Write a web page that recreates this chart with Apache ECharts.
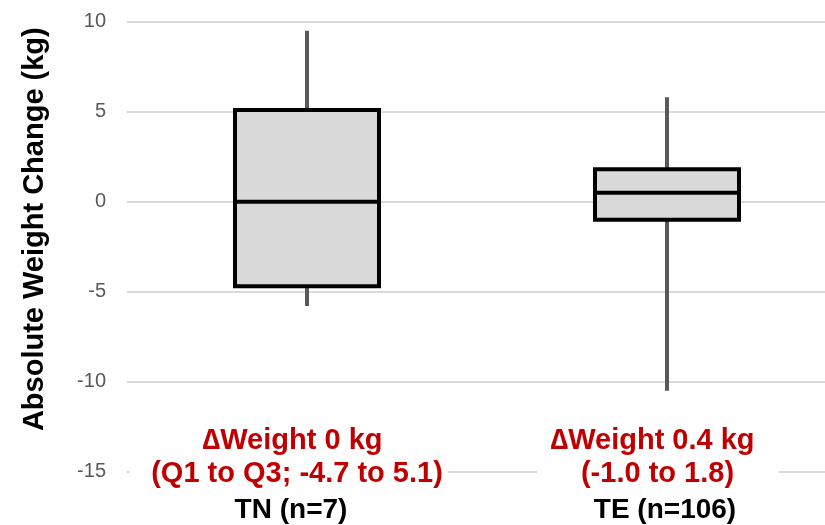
<!DOCTYPE html>
<html>
<head>
<meta charset="utf-8">
<script src="https://cdn.jsdelivr.net/npm/echarts@6/dist/echarts.min.js"></script>
<style>html,body{margin:0;padding:0;background:#fff}#c{width:825px;height:525px}</style>
</head>
<body>
<div id="c"></div>
<script>
const categories = ['TN (n=7)', 'TE (n=106)'];
const changeLabels = ['\u2206Weight 0 kg', '\u2206Weight 0.4 kg'];
const rangeLabels = ['(Q1 to Q3; -4.7 to 5.1)', '(-1.0 to 1.8)'];
const whiskerLow = [-5.8, -10.5];
const q1 = [-4.7, -1.0];
const median = [0, 0.5];
const q3 = [5.1, 1.8];
const whiskerHigh = [9.5, 5.8];
const yMin = -15, yMax = 10, yStep = 5;
const yTitle = 'Absolute Weight Change (kg)';

const boxData = categories.map((c, i) => [i, whiskerLow[i], q1[i], median[i], q3[i], whiskerHigh[i]]);
const labelFont = '"Liberation Sans", Arial, sans-serif';
const red = {fontFamily: labelFont, fontWeight: 'bold', fontSize: 29, color: '#c00000', lineHeight: 33};
const blk = {fontFamily: labelFont, fontWeight: 'bold', fontSize: 28, color: '#000', lineHeight: 41};

const chart = echarts.init(document.getElementById('c'), null, {renderer: 'canvas'});
chart.setOption({
  animation: false,
  backgroundColor: '#fff',
  grid: {left: 127, width: 720, top: 21.7, height: 450, containLabel: false, outerBoundsMode: 'none'},
  xAxis: {
    type: 'category',
    data: categories,
    z: 5,
    axisLine: {show: false},
    axisTick: {show: false},
    splitLine: {show: false},
    axisLabel: {
      interval: 0,
      margin: -47.5,
      formatter: (v, i) => `{a${i}|${changeLabels[i]}}\n{c${i}|${rangeLabels[i]}}{s${i}| }\n{b${i}|${v}}`,
      rich: {
        a0: Object.assign({}, red, {padding: [0, 29, 0, 0]}),
        c0: Object.assign({}, red, {backgroundColor: '#fff', padding: [0, 5, 0, 22]}),
        s0: Object.assign({}, red, {width: 37}),
        b0: Object.assign({}, blk, {padding: [0, 32, 0, 0]}),
        a1: Object.assign({}, red, {padding: [0, 29, 0, 0]}),
        c1: Object.assign({}, red, {backgroundColor: '#fff', padding: [0, 45, 0, 44]}),
        s1: Object.assign({}, red, {width: 18}),
        b1: Object.assign({}, blk, {padding: [0, 4, 0, 0]})
      }
    }
  },
  yAxis: {
    type: 'value',
    min: yMin, max: yMax, interval: yStep,
    name: yTitle,
    nameLocation: 'middle',
    nameGap: 78,
    nameTextStyle: {fontFamily: labelFont, fontWeight: 'bold', fontSize: 29, color: '#000', padding: [0, 0, 0, 35]},
    axisLine: {show: false},
    axisTick: {show: false},
    axisLabel: {fontFamily: labelFont, fontSize: 20, color: '#595959', margin: 21},
    splitLine: {lineStyle: {color: '#d9d9d9', width: 2}}
  },
  series: [{
    type: 'custom',
    z: 2,
    data: boxData,
    encode: {x: 0, y: [1, 2, 3, 4, 5]},
    renderItem: (params, api) => {
      const idx = api.value(0);
      const x = api.coord([idx, 0])[0];
      const w = api.size([1, 0])[0] * 0.4;
      const yLo = api.coord([idx, api.value(1)])[1];
      const yQ1 = api.coord([idx, api.value(2)])[1];
      const yMed = api.coord([idx, api.value(3)])[1];
      const yQ3 = api.coord([idx, api.value(4)])[1];
      const yHi = api.coord([idx, api.value(5)])[1];
      return {
        type: 'group',
        children: [
          {type: 'line', shape: {x1: x, y1: yHi, x2: x, y2: yLo}, style: {stroke: '#595959', lineWidth: 4, lineCap: 'butt'}},
          {type: 'rect', shape: {x: x - w / 2, y: yQ3, width: w, height: yQ1 - yQ3}, style: {fill: '#d9d9d9', stroke: '#000', lineWidth: 4, lineJoin: 'miter'}},
          {type: 'line', shape: {x1: x - w / 2, y1: yMed, x2: x + w / 2, y2: yMed}, style: {stroke: '#000', lineWidth: 4, lineCap: 'butt'}}
        ]
      };
    }
  }]
});
</script>
</body>
</html>
